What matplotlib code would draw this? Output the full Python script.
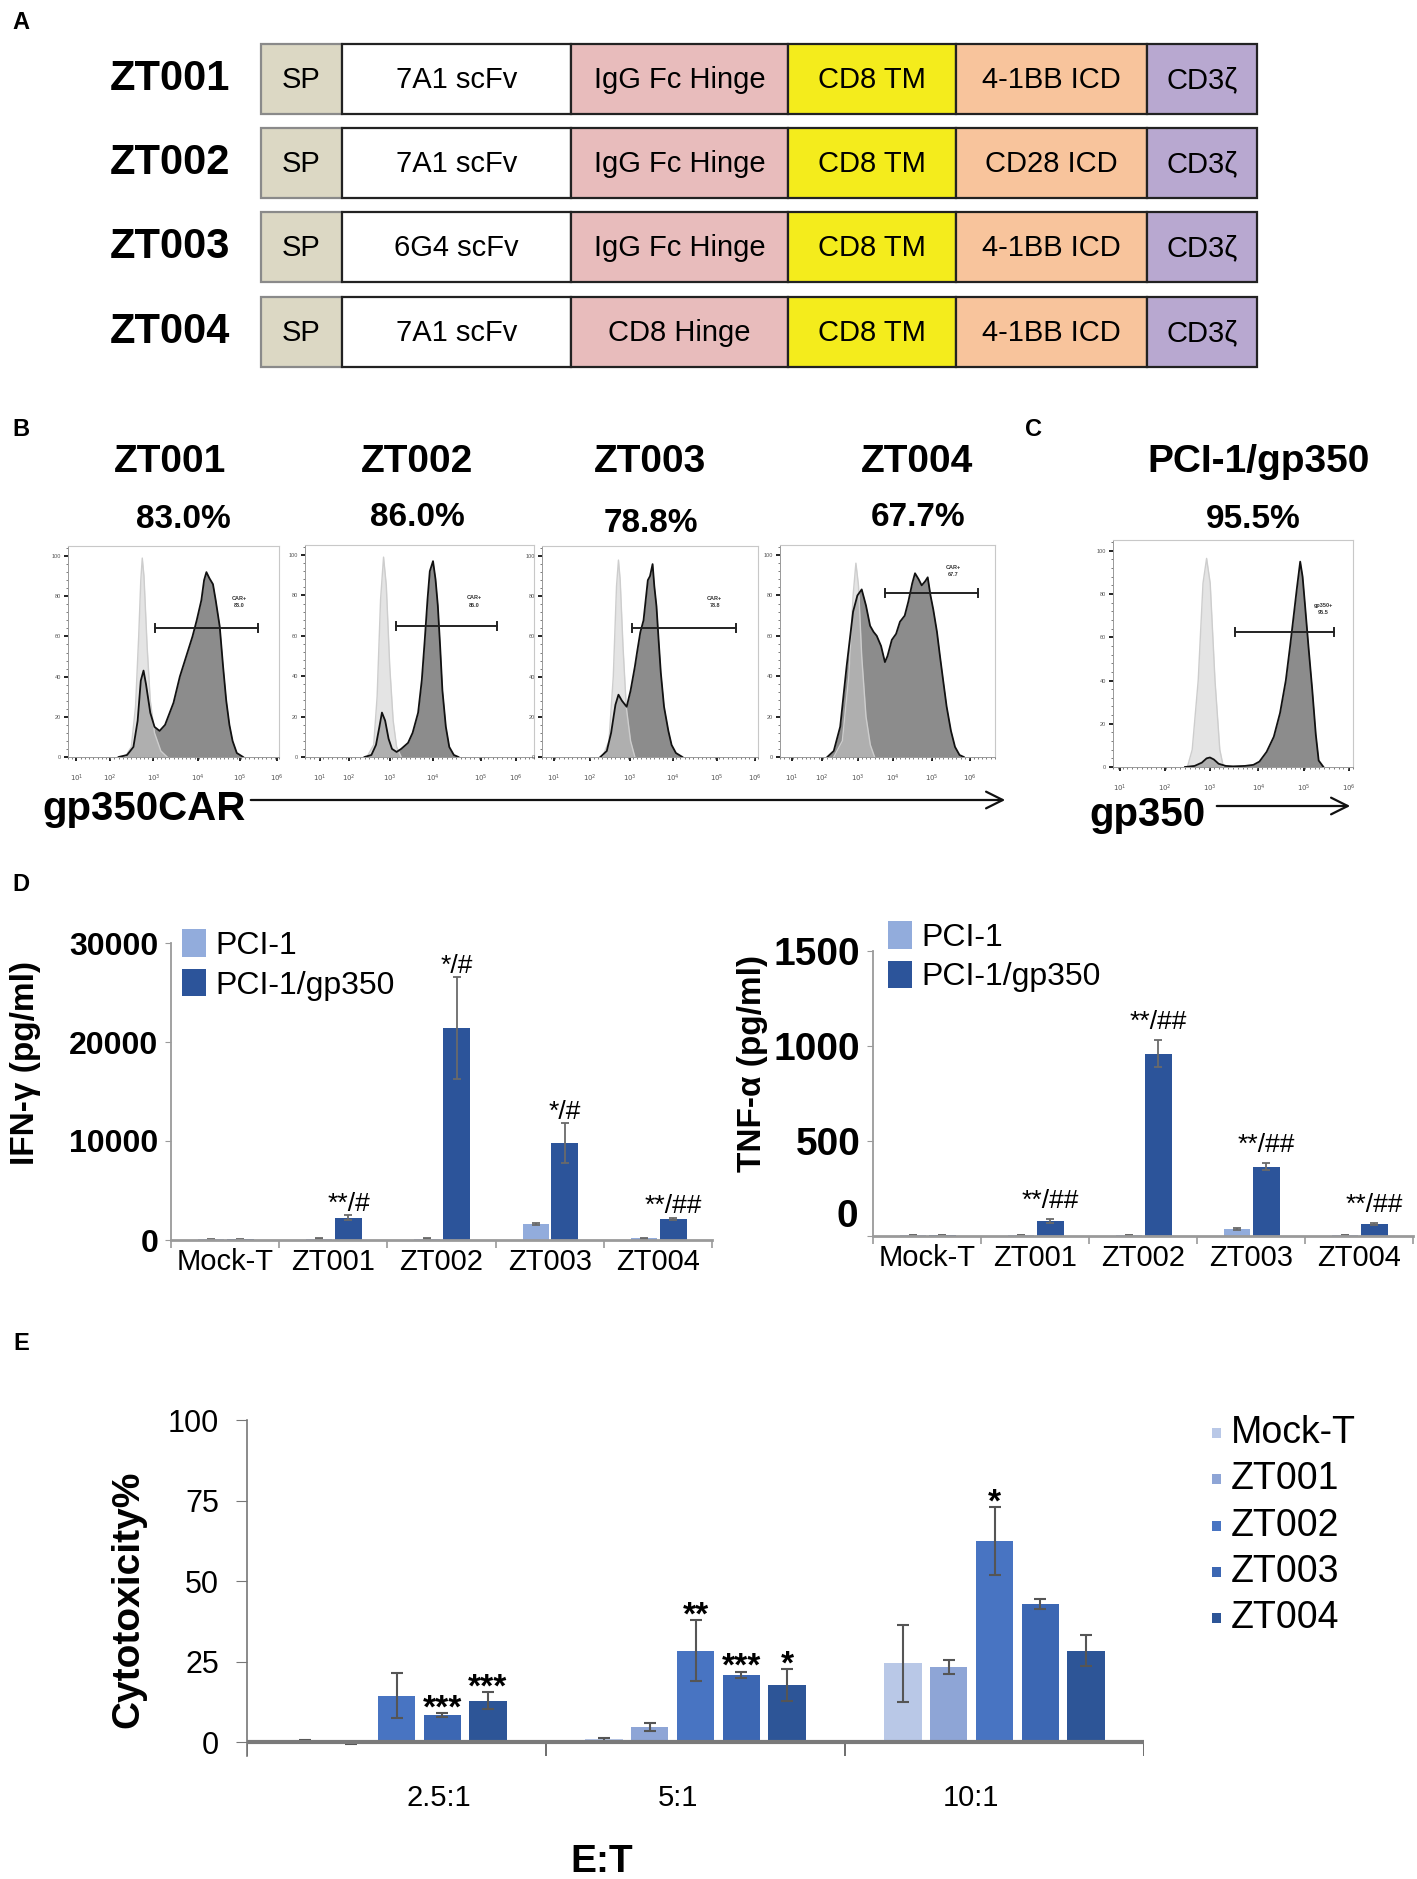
import matplotlib
matplotlib.use('Agg')
import matplotlib.pyplot as plt
from matplotlib.patches import Rectangle, Patch
from matplotlib.ticker import MultipleLocator, FixedLocator

W, H = 1417, 1879
plt.rcParams['font.family'] = ['Liberation Sans', 'DejaVu Sans']

# ---------------- data ----------------
# A: CAR constructs
constructs = ['ZT001', 'ZT002', 'ZT003', 'ZT004']
scfv = ['7A1 scFv', '7A1 scFv', '6G4 scFv', '7A1 scFv']
hinge = ['IgG Fc Hinge', 'IgG Fc Hinge', 'IgG Fc Hinge', 'CD8 Hinge']
icd = ['4-1BB ICD', 'CD28 ICD', '4-1BB ICD', '4-1BB ICD']

# B/C: flow histograms (x = fraction of display axis, y = % of max)
car_pct = ['83.0%', '86.0%', '78.8%', '67.7%']
gate_labels = ['CAR+\n83.0', 'CAR+\n86.0', 'CAR+\n78.8', 'CAR+\n67.7']

zt001_ctrl_x = [0.27, 0.30, 0.32, 0.335, 0.345, 0.352, 0.36, 0.375, 0.39, 0.41, 0.44, 0.47]
zt001_ctrl_y = [0, 5, 25, 60, 88, 99, 90, 55, 28, 12, 3, 0]
zt001_car_x = [0.24, 0.28, 0.31, 0.33, 0.345, 0.358, 0.37, 0.39, 0.41, 0.434, 0.46, 0.50, 0.53,
               0.56, 0.59, 0.61, 0.632, 0.645, 0.656, 0.67, 0.687, 0.70, 0.719, 0.735, 0.75,
               0.765, 0.78, 0.80, 0.83]
zt001_car_y = [0, 1, 5, 18, 38, 43, 36, 22, 15, 13, 16, 27, 40, 50, 60, 68, 78, 88, 92, 89, 86,
               78, 65, 45, 28, 16, 8, 2, 0]

zt002_ctrl_x = [0.27, 0.30, 0.315, 0.33, 0.343, 0.355, 0.37, 0.385, 0.40, 0.42]
zt002_ctrl_y = [0, 6, 30, 78, 99, 85, 45, 18, 5, 0]
zt002_car_x = [0.26, 0.29, 0.31, 0.325, 0.336, 0.35, 0.365, 0.38, 0.40, 0.42, 0.45, 0.47, 0.494,
               0.51, 0.523, 0.535, 0.545, 0.559, 0.57, 0.58, 0.59, 0.60, 0.615, 0.63, 0.65, 0.67]
zt002_car_y = [0, 1, 6, 15, 22, 18, 9, 4, 2.5, 4, 7, 12, 22, 38, 58, 78, 92, 97, 88, 75, 55, 33,
               15, 5, 1, 0]

zt003_ctrl_x = [0.28, 0.31, 0.33, 0.345, 0.354, 0.362, 0.375, 0.39, 0.41, 0.43]
zt003_ctrl_y = [0, 8, 40, 85, 98, 88, 55, 25, 8, 0]
zt003_car_x = [0.27, 0.30, 0.32, 0.34, 0.354, 0.37, 0.392, 0.41, 0.43, 0.44, 0.455, 0.47, 0.48,
               0.49, 0.50, 0.512, 0.52, 0.53, 0.54, 0.55, 0.565, 0.585, 0.60, 0.62, 0.65]
zt003_car_y = [0, 3, 12, 26, 31, 28, 25, 33, 45, 52, 62, 68, 78, 88, 90, 96, 85, 75, 58, 42, 25,
               13, 6, 2, 0]

zt004_ctrl_x = [0.25, 0.29, 0.32, 0.34, 0.353, 0.365, 0.38, 0.40, 0.42, 0.44]
zt004_ctrl_y = [0, 8, 40, 80, 96, 85, 50, 20, 6, 0]
zt004_car_x = [0.22, 0.25, 0.28, 0.31, 0.34, 0.36, 0.38, 0.40, 0.419, 0.435, 0.45, 0.47, 0.488,
               0.50, 0.52, 0.54, 0.558, 0.58, 0.597, 0.615, 0.628, 0.645, 0.659, 0.675, 0.687,
               0.70, 0.713, 0.73, 0.744, 0.76, 0.775, 0.795, 0.814, 0.835, 0.855]
zt004_car_y = [0, 3, 15, 45, 72, 80, 83, 75, 65, 62, 60, 55, 47, 50, 58, 61, 67, 70, 77, 86, 91,
               88, 85, 87, 89, 80, 73, 62, 50, 37, 25, 13, 5, 1, 0]

gp_ctrl_x = [0.31, 0.33, 0.355, 0.375, 0.39, 0.405, 0.425, 0.445, 0.46]
gp_ctrl_y = [0, 8, 40, 85, 96.5, 85, 40, 8, 0]
gp_pos_x = [0.30, 0.34, 0.37, 0.39, 0.404, 0.42, 0.44, 0.47, 0.50, 0.55, 0.585, 0.61, 0.64, 0.67,
            0.696, 0.72, 0.738, 0.755, 0.766, 0.78, 0.79, 0.80, 0.815, 0.83, 0.845, 0.857, 0.877]
gp_pos_y = [0, 0.5, 2, 4, 4.4, 3.5, 1.5, 0.5, 0.3, 0.5, 1, 2.5, 7, 14, 25, 40, 56, 72, 82.5, 95,
            88, 75, 55, 36, 15, 3, 0]

# D: cytokines
cyto_groups = ['Mock-T', 'ZT001', 'ZT002', 'ZT003', 'ZT004']
ifng_pci1 = [60, 150, 120, 1650, 160]
ifng_pci1_err = [30, 60, 40, 100, 50]
ifng_gp350 = [60, 2250, 21400, 9800, 2150]
ifng_gp350_err = [30, 250, 5150, 2000, 120]
ifng_marks = ['', '**/#', '*/#', '*/#', '**/##']
tnfa_pci1 = [4, 4, 4, 38, 4]
tnfa_pci1_err = [1, 1, 1, 4, 1]
tnfa_gp350 = [5, 79, 960, 365, 61]
tnfa_gp350_err = [1, 8, 70, 20, 5]
tnfa_marks = ['', '**/##', '**/##', '**/##', '**/##']

# E: cytotoxicity
ratios = ['2.5:1', '5:1', '10:1']
effectors = ['Mock-T', 'ZT001', 'ZT002', 'ZT003', 'ZT004']
kill_mock = [0.5, 1.0, 24.5]
kill_mock_err = [0.3, 0.5, 12]
kill_zt001 = [-0.3, 4.8, 23.5]
kill_zt001_err = [0.2, 1.2, 2.2]
kill_zt002 = [14.5, 28.5, 62.5]
kill_zt002_err = [7, 9.5, 10.5]
kill_zt003 = [8.5, 21, 43]
kill_zt003_err = [0.5, 1, 1.5]
kill_zt004 = [13, 17.8, 28.5]
kill_zt004_err = [2.5, 5, 4.7]
kill_marks = [['', '', ''], ['', '', ''], ['', '**', '*'], ['***', '***', ''], ['***', '*', '']]


def box(x0, y0, x1, y1):
    return [x0 / W, 1 - y1 / H, (x1 - x0) / W, (y1 - y0) / H]


fig = plt.figure(figsize=(W / 100, H / 100), dpi=100)
ov = fig.add_axes([0, 0, 1, 1])
ov.set_xlim(0, W)
ov.set_ylim(H, 0)
ov.axis('off')

# panel letters
for lab, (px, py) in zip('ABCDE', [(21, 22), (21, 429), (1033, 429), (21, 884), (21, 1343)]):
    ov.text(px, py, lab, fontsize=17, fontweight='bold', ha='center', va='center')

# ---------------- A ----------------
seg_edges = [261, 342, 571, 788, 956, 1147, 1257]
seg_colors = ['#dcd8c4', 'white', '#e8bcbc', '#f4ec1c', '#f8c49c', '#b8a8d0']
row_tops = [44, 128, 212, 297]
row_h = 70
for r, name in enumerate(constructs):
    top = row_tops[r]
    ov.text(170, top + row_h / 2, name, fontsize=30, fontweight='bold', ha='center', va='center')
    parts = ['SP', scfv[r], hinge[r], 'CD8 TM', icd[r], 'CD3ζ']
    for k, txt in enumerate(parts):
        x0, x1 = seg_edges[k], seg_edges[k + 1]
        ov.add_patch(Rectangle((x0, top), x1 - x0, row_h, facecolor=seg_colors[k],
                               edgecolor='#8a8a8a' if k == 0 else '#222222', lw=1.6))
        ov.text((x0 + x1) / 2, top + row_h / 2 + 1, txt, fontsize=21,
                ha='center', va='center')

# ---------------- B / C ----------------
hist_specs = [
    ('ZT001', car_pct[0], (68, 546, 279, 757), (170, 462), (183, 520),
     zt001_ctrl_x, zt001_ctrl_y, zt001_car_x, zt001_car_y,
     (0.41, 0.90, 64), (0.81, 77), gate_labels[0], [0.04, 0.197, 0.405, 0.615, 0.815, 0.99]),
    ('ZT002', car_pct[1], (305, 545, 534, 757), (417, 462), (417, 518),
     zt002_ctrl_x, zt002_ctrl_y, zt002_car_x, zt002_car_y,
     (0.398, 0.839, 65), (0.74, 77), gate_labels[1], [0.066, 0.19, 0.37, 0.56, 0.77, 0.92]),
    ('ZT003', car_pct[2], (542, 546, 758, 757), (650, 462), (651, 524),
     zt003_ctrl_x, zt003_ctrl_y, zt003_car_x, zt003_car_y,
     (0.415, 0.897, 64), (0.8, 77), gate_labels[2], [0.054, 0.223, 0.408, 0.605, 0.808, 0.985]),
    ('ZT004', car_pct[3], (780, 545, 995, 757), (917, 462), (918, 518),
     zt004_ctrl_x, zt004_ctrl_y, zt004_car_x, zt004_car_y,
     (0.488, 0.922, 81), (0.806, 92), gate_labels[3], [0.054, 0.194, 0.364, 0.527, 0.705, 0.884]),
    ('PCI-1/gp350', '95.5%', (1113, 540, 1353, 767), (1259, 462), (1253, 520),
     gp_ctrl_x, gp_ctrl_y, gp_pos_x, gp_pos_y,
     (0.508, 0.919, 62.5), (0.877, 73), 'gp350+\n95.5', [0.028, 0.216, 0.404, 0.606, 0.794, 0.982]),
]

for (title, pct, bb, tpos, ppos, cx, cy, sx, sy, gate, glab_pos, glab, xt) in hist_specs:
    ov.text(tpos[0], tpos[1], title, fontsize=28, fontweight='bold', ha='center', va='center')
    ov.text(ppos[0], ppos[1], pct, fontsize=24, fontweight='bold', ha='center', va='center')
    ax = fig.add_axes(box(*bb))
    ax.fill_between(cx, cy, color='#e4e4e4', lw=0)
    ax.fill_between(sx, sy, color='#8c8c8c', lw=0)
    ax.fill_between(cx, cy, color='#e4e4e4', alpha=0.4, lw=0)
    ax.plot(cx, cy, color='#cdcdcd', lw=1.0)
    ax.plot(sx, sy, color='#111111', lw=1.3)
    g0, g1, gy = gate
    ax.plot([g0, g1], [gy, gy], color='#222222', lw=1.4)
    ax.plot([g0, g0], [gy - 2, gy + 2], color='#222222', lw=1.4)
    ax.plot([g1, g1], [gy - 2, gy + 2], color='#222222', lw=1.4)
    ax.text(glab_pos[0], glab_pos[1], glab, fontsize=4, ha='center', va='center',
            fontweight='bold', color='#333333', linespacing=1.6)
    ax.set_xlim(0, 1)
    ax.set_ylim(0, 105)
    for sp in ['top', 'right']:
        ax.spines[sp].set_color('#c8c8c8')
        ax.spines[sp].set_linewidth(0.8)
    for sp in ['left', 'bottom']:
        ax.spines[sp].set_color('#999999')
        ax.spines[sp].set_linewidth(0.7)
    ax.set_yticks([0, 20, 40, 60, 80, 100])
    ax.set_yticklabels(['0', '20', '40', '60', '80', '100'], fontsize=4, color='#555555')
    ax.yaxis.set_minor_locator(MultipleLocator(4))
    ax.set_xticks(xt)
    ax.set_xticklabels([r'$10^{%d}$' % (i + 1) for i in range(6)], fontsize=5, color='#555555')
    ax.xaxis.set_minor_locator(MultipleLocator(0.02))
    ax.tick_params(which='major', length=3, width=1.3, color='#111111', pad=2)
    ax.tick_params(which='minor', length=1.5, width=0.6, color='#666666')
    ax.tick_params(axis='x', pad=8)

# axis titles with arrows
ov.text(144, 809, 'gp350CAR', fontsize=29, fontweight='bold', ha='center', va='center')
ov.annotate('', xy=(1008, 800), xytext=(248, 800),
            arrowprops=dict(arrowstyle='->', lw=1.6, color='#111111', mutation_scale=30))
ov.text(1147, 815, 'gp350', fontsize=29, fontweight='bold', ha='center', va='center')
ov.annotate('', xy=(1353, 806), xytext=(1214, 806),
            arrowprops=dict(arrowstyle='->', lw=1.6, color='#111111', mutation_scale=30))

# ---------------- D ----------------
c_pci1 = '#92acdc'
c_gp350 = '#2c549a'


def cytokine(bb, ymax, ticks, tick_fs, pci, pci_err, gp, gp_err, marks, ylab, ylab_pos,
             leg_pos, mark_off):
    ax = fig.add_axes(box(*bb))
    xs = list(range(len(cyto_groups)))
    ekw = dict(ecolor='#6a6a6a', capsize=3, lw=1.3, capthick=1.3)
    ax.bar([x - 0.13 for x in xs], pci, 0.24, color=c_pci1, yerr=pci_err, error_kw=ekw)
    ax.bar([x + 0.14 for x in xs], gp, 0.25, color=c_gp350, yerr=gp_err, error_kw=ekw)
    for x, v, e, m in zip(xs, gp, gp_err, marks):
        if m:
            ax.annotate(m, (x + 0.14, v + e), xytext=(0, mark_off), textcoords='offset points',
                        ha='center', va='baseline', fontsize=19)
    ax.set_xlim(-0.5, len(xs) - 0.5)
    ax.set_ylim(0, ymax)
    ax.spines['top'].set_visible(False)
    ax.spines['right'].set_visible(False)
    ax.spines['left'].set_color('#9a9a9a')
    ax.spines['bottom'].set_color('#9a9a9a')
    ax.spines['left'].set_linewidth(1.3)
    ax.spines['bottom'].set_linewidth(2.0)
    ax.set_yticks(ticks)
    ax.set_yticklabels([str(t) for t in ticks], fontsize=tick_fs, fontweight='bold')
    ax.tick_params(axis='y', length=4, color='#9a9a9a', pad=5)
    ax.set_xticks(xs)
    ax.set_xticklabels(cyto_groups, fontsize=21)
    ax.xaxis.set_minor_locator(FixedLocator([x - 0.5 for x in range(len(xs) + 1)]))
    ax.tick_params(axis='x', which='major', length=0, pad=6)
    ax.tick_params(axis='x', which='minor', length=6, color='#9a9a9a', width=1.2)
    ov.text(ylab_pos[0], ylab_pos[1], ylab, fontsize=24, fontweight='bold', rotation=90,
            ha='center', va='center')
    ax.legend([Patch(facecolor=c_pci1), Patch(facecolor=c_gp350)], ['PCI-1', 'PCI-1/gp350'],
              loc='upper left', bbox_to_anchor=(leg_pos[0] / W, 1 - leg_pos[1] / H),
              bbox_transform=fig.transFigure, frameon=False, fontsize=23,
              handlelength=0.75, handleheight=0.95, handletextpad=0.3, labelspacing=0.25,
              borderpad=0, borderaxespad=0)
    return ax


cytokine((171, 943, 712, 1240), 30000, [0, 10000, 20000, 30000], 23, ifng_pci1, ifng_pci1_err,
         ifng_gp350, ifng_gp350_err, ifng_marks, 'IFN-γ (pg/ml)', (26, 1063), (182, 929), 3)
axT = cytokine((873, 951, 1413, 1236), 1500, [0, 500, 1000, 1500], 28, tnfa_pci1, tnfa_pci1_err,
               tnfa_gp350, tnfa_gp350_err, tnfa_marks, 'TNF-α (pg/ml)', (752, 1064), (888, 921), 8)
axT.set_yticklabels(['', '500', '1000', '1500'], fontsize=28, fontweight='bold')
axT.text(-0.028, 100, '0', transform=axT.get_yaxis_transform(), fontsize=28, fontweight='bold',
         ha='right', va='center')

# ---------------- E ----------------
kill_vals = [kill_mock, kill_zt001, kill_zt002, kill_zt003, kill_zt004]
kill_errs = [kill_mock_err, kill_zt001_err, kill_zt002_err, kill_zt003_err, kill_zt004_err]
kill_colors = ['#b9c8e7', '#8ea5d6', '#4874c2', '#3c67b3', '#2d5597']

axE = fig.add_axes(box(247, 1420, 1144, 1756))
for i in range(len(effectors)):
    xs = [g + (i - 2) * 0.153 for g in range(len(ratios))]
    axE.bar(xs, kill_vals[i], 0.125, color=kill_colors[i], yerr=kill_errs[i],
            error_kw=dict(ecolor='#555555', capsize=4, lw=1.5, capthick=1.5))
    for x, v, e, m in zip(xs, kill_vals[i], kill_errs[i], kill_marks[i]):
        if m:
            axE.annotate(m, (x, v + e), xytext=(0, -3), textcoords='offset points',
                         ha='center', va='baseline', fontsize=24, fontweight='bold')
axE.axhline(0, color='#7a7a7a', lw=3, zorder=3)
axE.vlines([-0.5, 0.5, 1.5, 2.5], -4.2, 0, color='#555555', lw=1.2)
axE.set_xlim(-0.5, 2.5)
axE.set_ylim(-4.2, 100)
for sp in ['top', 'right', 'bottom']:
    axE.spines[sp].set_visible(False)
axE.spines['left'].set_color('#777777')
axE.spines['left'].set_linewidth(1.2)
axE.set_yticks([0, 25, 50, 75, 100])
axE.set_yticklabels(['0', '25', '50', '75', '100'], fontsize=22)
axE.tick_params(axis='y', length=8, color='#777777', pad=12)
axE.set_xticks([0.14, -0.06 + 1, -0.08 + 2])
axE.set_xticklabels(ratios, fontsize=21)
axE.tick_params(axis='x', length=0, pad=20)
ov.text(128, 1599, 'Cytotoxicity%', fontsize=28, fontweight='bold', rotation=90,
        ha='center', va='center')
ov.text(602, 1862, 'E:T', fontsize=28, fontweight='bold', ha='center', va='center')

# legend for E: small squares + labels
for i, (lab, col) in enumerate(zip(effectors, kill_colors)):
    yc = 1433 + i * 46.3
    ov.add_patch(Rectangle((1212, yc - 5), 9, 10, facecolor=col, edgecolor='none'))
    ov.text(1231, yc, lab, fontsize=27, ha='left', va='center')

fig.savefig('out.png', dpi=100)
